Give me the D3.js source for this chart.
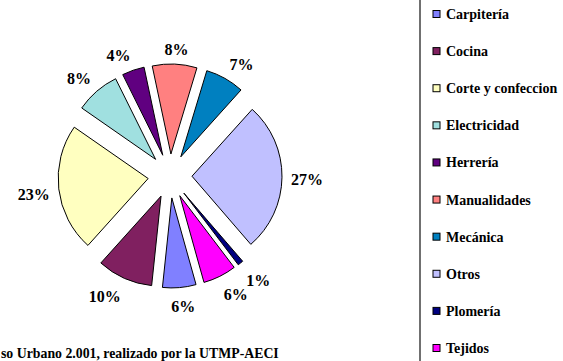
<!DOCTYPE html>
<html>
<head>
<meta charset="utf-8">
<script src="https://cdn.jsdelivr.net/npm/d3@7"></script>
<style>
  html, body { margin: 0; padding: 0; background: #fff; }
  svg { display: block; }
</style>
</head>
<body>
<svg id="chart" width="563" height="361"></svg>
<script>
// Talleres: share of trainees by trade
const categories = ["Carpitería", "Cocina", "Corte y confeccion", "Electricidad", "Herrería",
                    "Manualidades", "Mecánica", "Otros", "Plomería", "Tejidos"];
const shares = [6, 10, 23, 8, 4, 8, 7, 27, 1, 6];
const pctLabels = ["6%", "10%", "23%", "8%", "4%", "8%", "7%", "27%", "1%", "6%"];
const fills = ["#8080FF", "#802060", "#FFFFC0", "#A0E0E0", "#600080",
               "#FF8080", "#0080C0", "#C0C0FF", "#000080", "#FF00FF"];
const footnote = "so Urbano 2.001, realizado por la UTMP-AECI";

const svg = d3.select("#chart");
const cx = 170, cy = 176;
const radius = 90, explode = 22, labelRadius = 121;
const serif = '"Liberation Serif"';

const start = 164.4 * Math.PI / 180;
const pie = d3.pie().sort(null).value(d => d)
  .startAngle(start).endAngle(start + 2 * Math.PI);
const arcs = pie(shares);
const arc = d3.arc().innerRadius(0).outerRadius(radius);
const color = d3.scaleOrdinal().domain(categories).range(fills);

const g = svg.append("g").attr("transform", `translate(${cx},${cy})`);

const mid = d => (d.startAngle + d.endAngle) / 2;
const polar = (r, a) => [r * Math.sin(a), -r * Math.cos(a)];
const clamp = v => Math.max(-1, Math.min(1, v));

// exploded slices
g.selectAll("path.slice")
  .data(arcs)
  .join("path")
  .attr("class", "slice")
  .attr("transform", d => `translate(${polar(explode, mid(d))})`)
  .attr("d", arc)
  .attr("fill", (d, i) => color(categories[i]))
  .attr("stroke", "#000")
  .attr("stroke-width", 1)
  .attr("stroke-linejoin", "round");

// percentage labels: the label box sits just outside the ring,
// pushed outward by its own half size along the slice direction
const labels = g.selectAll("text.pct")
  .data(arcs)
  .join("text")
  .attr("class", "pct")
  .attr("text-anchor", "middle")
  .attr("dominant-baseline", "central")
  .style("font-family", serif)
  .style("font-weight", "bold")
  .style("font-size", "16px")
  .text((d, i) => pctLabels[i]);

labels.each(function(d) {
  const a = mid(d);
  const hw = this.getComputedTextLength() / 2, hh = 8;
  const [px, py] = polar(labelRadius, a);
  const ox = hw * clamp(3 * Math.sin(a));
  const oy = -hh * clamp(3 * Math.cos(a));
  d3.select(this).attr("x", px + ox).attr("y", py + oy + 2);
});

// Legend panel
const legend = svg.append("g");
legend.append("rect")
  .attr("x", 420).attr("y", -5)
  .attr("width", 160).attr("height", 371)
  .attr("fill", "#fff")
  .attr("stroke", "#707070")
  .attr("stroke-width", 2);

const rowY = d3.scalePoint().domain(categories).range([14, 348]);
const rows = legend.selectAll("g.row")
  .data(categories)
  .join("g")
  .attr("class", "row")
  .attr("transform", d => `translate(0,${rowY(d)})`);

rows.append("rect")
  .attr("x", 433).attr("y", -3.5)
  .attr("width", 7).attr("height", 7)
  .attr("fill", d => color(d))
  .attr("stroke", "#000")
  .attr("stroke-width", 1);

rows.append("text")
  .attr("x", 446).attr("y", 5)
  .style("font-family", serif)
  .style("font-weight", "bold")
  .style("font-size", "14px")
  .text(d => d);

svg.append("text")
  .attr("x", 1).attr("y", 358)
  .style("font-family", serif)
  .style("font-weight", "bold")
  .style("font-size", "13.8px")
  .text(footnote);
</script>
</body>
</html>
